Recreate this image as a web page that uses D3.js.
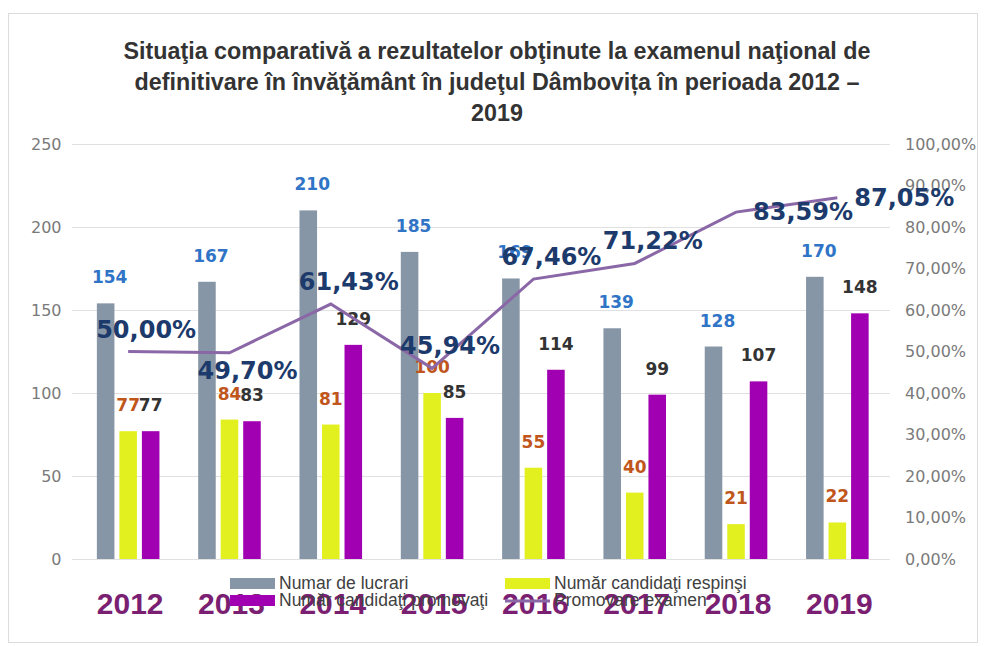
<!DOCTYPE html>
<html>
<head>
<meta charset="utf-8">
<script src="https://cdn.jsdelivr.net/npm/d3@7"></script>
<style>
  body { margin: 0; background: #fff; }
  svg { display: block; }
</style>
</head>
<body>
<svg id="chart" width="984" height="646"></svg>
<script>
const years = ['2012', '2013', '2014', '2015', '2016', '2017', '2018', '2019'];
const lucrari = [154, 167, 210, 185, 169, 139, 128, 170];
const respinsi = [77, 84, 81, 100, 55, 40, 21, 22];
const promovati = [77, 83, 129, 85, 114, 99, 107, 148];
const promovare = [50.00, 49.70, 61.43, 45.94, 67.46, 71.22, 83.59, 87.05];
const leftTicks = [0, 50, 100, 150, 200, 250];
const rightTicks = [0, 10, 20, 30, 40, 50, 60, 70, 80, 90, 100];
const titleLines = [
  'Situaţia comparativă a rezultatelor obţinute la examenul naţional de',
  'definitivare în învăţământ în judeţul Dâmbovița în perioada 2012 –',
  '2019'
];
// where Excel put each % label
const pctPlace = ['above', 'below', 'above', 'above', 'above', 'above', 'right', 'right'];

const series = [
  { key: 'lucrari', name: 'Numar de lucrari', values: lucrari, color: '#8796a6', label: '#2f74c6' },
  { key: 'respinsi', name: 'Număr candidaţi respinşi', values: respinsi, color: '#e3f020', label: '#c0561c' },
  { key: 'promovati', name: 'Număr candidaţi promovaţi', values: promovati, color: '#a100b2', label: '#333333' }
];
const lineColor = '#8a67a6';

const svg = d3.select('#chart');
const margin = { left: 77.5, right: 96, top: 144, bottom: 87 };
const W = 984, H = 646;

svg.append('rect')
  .attr('x', 8.5).attr('y', 13.5).attr('width', 969).attr('height', 629)
  .attr('fill', '#fff').attr('stroke', '#dcdcdc');

const x0 = d3.scaleBand().domain(years).range([margin.left, W - margin.right]);
const x1 = d3.scaleBand().domain(series.map(s => s.key))
  .range([0, x0.bandwidth()]).paddingInner(0.22).paddingOuter(0.86);
const y = d3.scaleLinear().domain([0, 250]).range([H - margin.bottom, margin.top]);
const yR = d3.scaleLinear().domain([0, 100]).range([H - margin.bottom, margin.top]);

// title
svg.append('g').selectAll('text').data(titleLines).join('text')
  .attr('x', 497).attr('y', (d, i) => 59 + i * 31)
  .attr('text-anchor', 'middle')
  .style('font-family', '"Liberation Sans", Arial, sans-serif')
  .style('font-weight', 'bold').style('font-size', '23.3px')
  .attr('fill', '#333333')
  .text(d => d);

// gridlines
svg.append('g').selectAll('line').data(leftTicks).join('line')
  .attr('x1', 72).attr('x2', 890)
  .attr('y1', d => Math.round(y(d)) + 0.5).attr('y2', d => Math.round(y(d)) + 0.5)
  .attr('stroke', '#e0e0e0');

// left axis
const axL = svg.append('g').attr('transform', `translate(${margin.left - 16},0)`)
  .call(d3.axisLeft(y).tickValues(leftTicks).tickSize(0).tickPadding(0));
axL.select('.domain').remove();
axL.selectAll('text')
  .style('font-family', '"DejaVu Sans", sans-serif').style('font-size', '16px')
  .attr('fill', '#7a7a7a');

// right axis
const fmtPct = d => d3.format('.2f')(d).replace('.', ',') + '%';
const axR = svg.append('g').attr('transform', `translate(${W - margin.right + 17},0)`)
  .call(d3.axisRight(yR).tickValues(rightTicks).tickSize(0).tickPadding(0).tickFormat(fmtPct));
axR.select('.domain').remove();
axR.selectAll('text')
  .style('font-family', '"DejaVu Sans", sans-serif').style('font-size', '16px')
  .attr('fill', '#7a7a7a');

// bars
const groups = svg.append('g').selectAll('g').data(years).join('g')
  .attr('transform', d => `translate(${x0(d)},0)`);
groups.selectAll('rect')
  .data((d, i) => series.map(s => ({ s, v: s.values[i] })))
  .join('rect')
  .attr('x', d => x1(d.s.key)).attr('width', x1.bandwidth())
  .attr('y', d => y(d.v)).attr('height', d => y(0) - y(d.v))
  .attr('fill', d => d.s.color);

// bar labels
groups.selectAll('text')
  .data((d, i) => series.map(s => ({ s, v: s.values[i] })))
  .join('text')
  .attr('x', d => x1(d.s.key) + x1.bandwidth() / 2 + (d.s.key === 'lucrari' ? 4 : 0))
  .attr('y', d => y(d.v) - 20)
  .attr('text-anchor', 'middle')
  .style('font-family', '"DejaVu Sans", sans-serif')
  .style('font-weight', 'bold').style('font-size', '17px')
  .attr('fill', d => d.s.label)
  .text(d => d.v);

// line
const cx = d => x0(d) + x0.bandwidth() / 2;
const line = d3.line().x((d, i) => cx(years[i])).y(d => yR(d));
svg.append('path').datum(promovare)
  .attr('d', line).attr('fill', 'none')
  .attr('stroke', lineColor).attr('stroke-width', 3);

// % labels
svg.append('g').selectAll('text').data(promovare).join('text')
  .attr('x', (d, i) => pctPlace[i] === 'right' ? cx(years[i]) + 17 : cx(years[i]) + 18)
  .attr('y', (d, i) => pctPlace[i] === 'above' ? yR(d) - 14 : pctPlace[i] === 'below' ? yR(d) + 26 : yR(d) + 8)
  .attr('text-anchor', (d, i) => pctPlace[i] === 'right' ? 'start' : 'middle')
  .style('font-family', '"DejaVu Sans", sans-serif')
  .style('font-weight', 'bold').style('font-size', '24px')
  .attr('fill', '#1c3a6b')
  .text(d => fmtPct(d));

// year labels
svg.append('g').selectAll('text').data(years).join('text')
  .attr('x', d => cx(d) + 2).attr('y', 614)
  .attr('text-anchor', 'middle')
  .style('font-family', '"Liberation Sans", Arial, sans-serif')
  .style('font-weight', 'bold').style('font-size', '30px')
  .attr('fill', '#7a1f72')
  .text(d => d);

// legend
const legendItems = [
  { name: series[0].name, color: series[0].color, x: 230, y: 584, type: 'rect' },
  { name: series[1].name, color: series[1].color, x: 505, y: 584, type: 'rect' },
  { name: series[2].name, color: series[2].color, x: 230, y: 601, type: 'rect' },
  { name: 'Promovare examen', color: lineColor, x: 505, y: 601, type: 'line' }
];
const leg = svg.append('g').selectAll('g').data(legendItems).join('g')
  .attr('transform', d => `translate(${d.x},${d.y})`);
leg.filter(d => d.type === 'rect').append('rect')
  .attr('x', 0).attr('y', -6).attr('width', 45).attr('height', 11)
  .attr('fill', d => d.color);
leg.filter(d => d.type === 'line').append('line')
  .attr('x1', 0).attr('x2', 45).attr('y1', 0).attr('y2', 0)
  .attr('stroke', d => d.color).attr('stroke-width', 3);
leg.append('text')
  .attr('x', 49).attr('y', 5)
  .style('font-family', '"Liberation Sans", Arial, sans-serif')
  .style('font-size', '17.5px')
  .attr('fill', '#404040')
  .text(d => d.name);
</script>
</body>
</html>
